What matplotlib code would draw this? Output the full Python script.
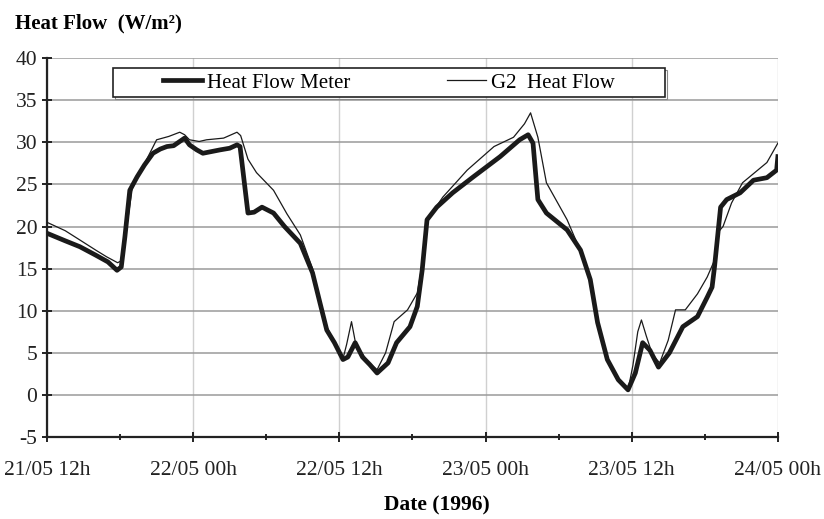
import matplotlib
matplotlib.use("Agg")
import matplotlib.pyplot as plt
from matplotlib.patches import Rectangle
import numpy as np

plt.rcParams['font.family'] = ['Liberation Serif', 'DejaVu Serif']
plt.rcParams['axes.unicode_minus'] = False

# hours since 21/05 12h
meter_t = [0, 1.5, 2.7, 4, 5, 5.75, 6.1, 6.4, 6.8, 7.4, 8, 8.7, 9.3, 9.85, 10.4, 11.3, 11.7,
           12.3, 12.8, 13.5, 14.2, 15, 15.6, 15.85, 16.5, 17.0, 17.65, 18.6, 19.5, 20.8, 21.8,
           22.4, 22.97, 23.6, 24.3, 24.7, 25.3, 25.9, 26.5, 27.1, 28.0, 28.7, 29.8, 30.4, 30.8,
           31.2, 32.0, 33.3, 35.0, 37.2, 38.8, 39.5, 39.9, 40.3, 41.0, 42.7, 43.8, 44.6, 45.2,
           46.0, 46.9, 47.7, 48.3, 48.9, 49.5, 50.2, 51.1, 52.2, 53.4, 54.2, 54.6, 54.8, 55.3,
           55.8, 56.9, 58.0, 59.1, 59.9, 60]
meter_q = [19.2, 18.3, 17.6, 16.6, 15.8, 14.8, 15.2, 18.8, 24.3, 25.9, 27.3, 28.7, 29.2, 29.5,
           29.6, 30.5, 29.7, 29.1, 28.7, 28.9, 29.1, 29.3, 29.7, 29.5, 21.6, 21.7, 22.3, 21.6,
           20.0, 18.0, 14.5, 11.0, 7.7, 6.2, 4.2, 4.5, 6.2, 4.5, 3.6, 2.6, 3.8, 6.2, 8.1, 10.5,
           14.8, 20.8, 22.3, 24.0, 25.9, 28.3, 30.3, 30.9, 29.9, 23.2, 21.6, 19.6, 17.2, 13.7,
           8.6, 4.2, 1.8, 0.6, 2.6, 6.2, 5.3, 3.3, 5.0, 8.1, 9.3, 11.6, 12.8, 15.2, 22.3, 23.2,
           24.0, 25.5, 25.8, 26.7, 28.3]

g2_t = [0, 1.5, 2.7, 4, 4.9, 5.8, 6.2, 6.6, 7.0, 7.6, 8.3, 9.0, 10.0, 10.9, 11.3, 11.7, 12.5,
        13.1, 14.5, 15.6, 15.9, 16.5, 17.2, 18.6, 19.7, 20.8, 21.8, 22.4, 23.0, 23.6, 24.3,
        24.6, 25.0, 25.3, 25.6, 26.3, 27.1, 27.8, 28.5, 29.6, 30.4, 30.8, 31.3, 32.5, 34.5,
        36.7, 38.3, 39.2, 39.7, 40.3, 41.0, 42.7, 44.0, 44.6, 45.2, 46.0, 46.9, 47.7, 48.1,
        48.5, 48.8, 49.2, 49.7, 50.3, 51.0, 51.6, 52.4, 53.4, 54.2, 54.8, 55.2, 55.5, 56.2,
        57.1, 59.1, 60]
g2_q = [20.5, 19.5, 18.4, 17.2, 16.4, 15.7, 16.0, 20.5, 24.5, 26.3, 28.3, 30.3, 30.7, 31.2,
        30.9, 30.3, 30.1, 30.3, 30.5, 31.2, 30.8, 28.0, 26.4, 24.3, 21.5, 19.0, 15.0, 11.3,
        8.0, 6.3, 4.3, 6.0, 8.7, 6.4, 5.5, 4.0, 3.0, 5.0, 8.7, 10.1, 12.1, 15.5, 21.0, 23.5,
        26.7, 29.5, 30.6, 32.2, 33.5, 30.6, 25.2, 20.8, 16.4, 13.5, 8.4, 4.0, 1.6, 0.6, 3.5,
        7.5, 8.9, 7.0, 4.8, 3.8, 6.5, 10.1, 10.1, 12.0, 14.0, 16.0, 19.5, 20.0, 22.8, 25.2,
        27.6, 29.9]

tick_hours = [0, 12, 24, 36, 48, 60]
tick_labels = ['21/05 12h', '22/05 00h', '22/05 12h', '23/05 00h', '23/05 12h', '24/05 00h']

fig = plt.figure(figsize=(8.24, 5.19), dpi=100)
ax = fig.add_axes([0.057, 0.158, 0.887, 0.730])

ax.plot(meter_t, meter_q, color='#1a1a1a', lw=3.4, label='Heat Flow Meter', zorder=3)
ax.plot(g2_t, g2_q, color='#1a1a1a', lw=0.9, label='G2  Heat Flow', zorder=4)

ax.set_xlim(0, 60)
ax.set_ylim(-5, 40)
ax.set_yticks(np.arange(-5, 41, 5))
ax.set_xticks(tick_hours)
ax.set_xticklabels(tick_labels)
ax.set_xticks(np.arange(6, 60, 12), minor=True)

ax.grid(axis='y', color='#9a9a9a', lw=1.1)
ax.grid(axis='x', color='#d0d0d0', lw=1.0)
ax.set_axisbelow(True)

ax.spines['top'].set_visible(False)
ax.spines['right'].set_visible(False)
for s in ['left', 'bottom']:
    ax.spines[s].set_linewidth(1.6)
    ax.spines[s].set_color('#222222')

ax.tick_params(axis='both', which='major', direction='inout', length=7, width=1.4,
               labelsize=15.5, colors='#222222')
ax.tick_params(axis='x', which='major', pad=14)
ax.tick_params(axis='x', which='minor', direction='inout', length=4, width=1.2)

# legend box drawn separately, entries centred inside it
box = Rectangle((0.09, 0.897), 0.755, 0.077, transform=ax.transAxes, facecolor='white',
                edgecolor='#222222', lw=1.2, zorder=5)
ax.add_patch(box)
shadow = Rectangle((0.093, 0.892), 0.755, 0.077, transform=ax.transAxes, facecolor='none',
                   edgecolor='#888888', lw=0.8, zorder=4.9)
ax.add_patch(shadow)
leg = ax.legend(loc='center', bbox_to_anchor=(0.468, 0.935), ncol=2, fontsize=15,
                frameon=False, handlelength=1.9, handletextpad=0.25, columnspacing=4.6,
                borderaxespad=0, borderpad=0)
leg.set_zorder(6)

fig.text(0.018, 0.955, 'Heat Flow  (W/m\u00b2)', fontsize=15, fontweight='bold',
         va='center', ha='left')
fig.text(0.53, 0.027, 'Date (1996)', fontsize=15.5, fontweight='bold', va='center', ha='center')

plt.savefig('out.png', dpi=100)
